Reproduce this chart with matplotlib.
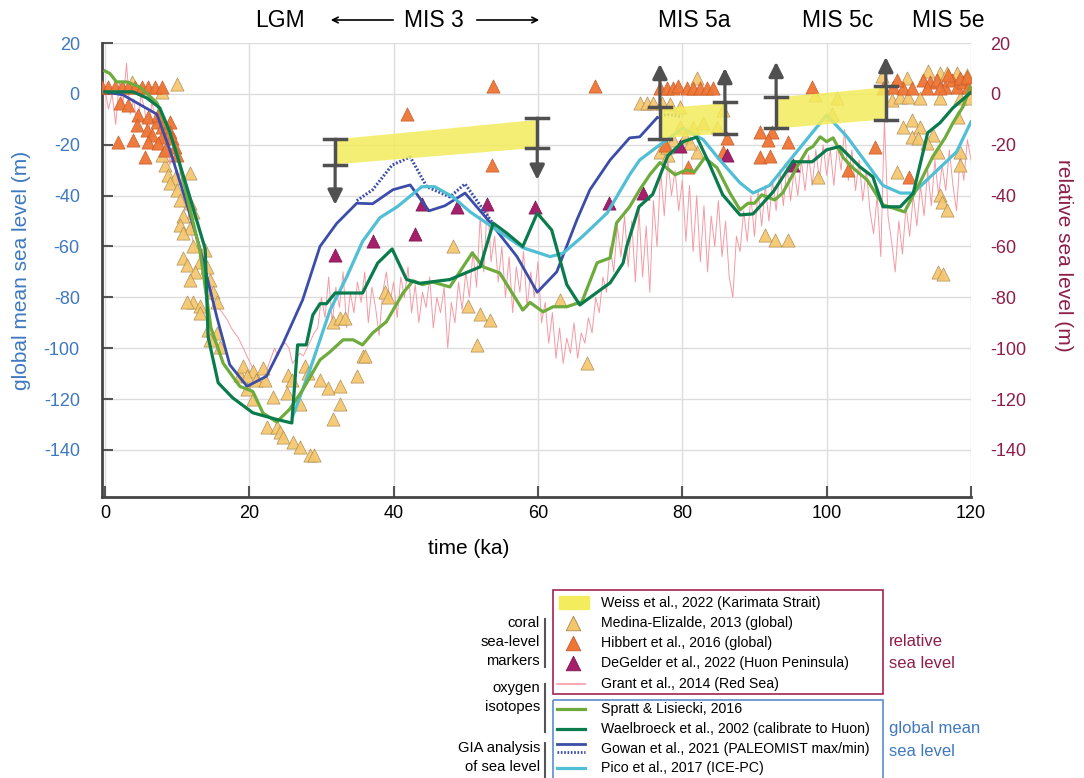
import matplotlib
matplotlib.use('Agg')
import matplotlib.pyplot as plt
from matplotlib.patches import Rectangle
import numpy as np

plt.rcParams['font.family'] = ['Liberation Sans', 'DejaVu Sans']
plt.rcParams['axes.unicode_minus'] = False

# ---- sea level curves (age in ka, level in m) ----
spratt_age = [0, 0.7, 1.6, 3, 4.8, 7.2, 8.6, 10, 11.5, 13.2, 14.7, 16.4, 18.7, 20.5, 21.9,
              23.8, 25.6, 27.4, 29.8, 31.2, 33, 34.4, 35.7, 37.1, 39, 41.3, 42.7, 44, 45.4,
              47.8, 50.9, 52.4, 54.7, 57.9, 58.9, 60.7, 62.1, 64, 66.1, 68.2, 70, 70.9, 72.7,
              74.1, 75.5, 76.9, 79, 80.6, 81.7, 83.1, 84.8, 86.6, 88, 89.1, 90, 91, 92.8,
              93.9, 95.9, 97.3, 98.1, 99.1, 100, 100.9, 102.3, 103.6, 105.6, 107.8, 110.8,
              112.9, 114.7, 116.4, 117.5, 118.9, 119.9]
spratt_gmsl = [9, 8, 4.7, 4.7, 2.8, -3.5, -13, -23, -42, -62, -92, -106, -115, -117, -125.5,
               -129, -124, -116.4, -104.6, -101.4, -96.7, -96.7, -98.7, -94, -89.6, -78.3, -73.5,
               -75, -74, -75.9, -62.5, -68, -70.4, -85, -82, -85.7, -83.7, -83.7, -81.7, -66.4,
               -64.5, -50.7, -44.4, -37.7, -31.8, -27, -31.8, -29.9, -30.6, -25.1, -29, -39,
               -45.6, -43, -43, -39.7, -41.7, -39, -28.7, -22, -20.7, -16.9, -18.8, -17.3,
               -25.1, -29, -33.8, -43.6, -46.4, -35, -24.7, -17.3, -11.4, -5, 2.8]

wael_age = [0, 3.9, 5.8, 7.6, 9, 11.5, 13.9, 14.3, 15.7, 17.7, 20.5, 23.8, 25.9, 26.7, 27.9,
            28.8, 29.8, 30.7, 31.9, 35.7, 37.8, 39.8, 41.8, 43.6, 47.8, 52, 53.8, 55.7, 57.9,
            59.9, 61.9, 64, 65.8, 68.2, 70, 71.8, 72.3, 74, 75.9, 78, 80.1, 82, 83.6, 85.6,
            88, 89.8, 92.6, 95.3, 98, 100, 101.8, 104.6, 106.4, 107.8, 110.2, 112, 114,
            115.7, 117.5, 119.9]
wael_gmsl = [0.8, 0.8, -1.6, -5.5, -15, -38, -61, -95.5, -113.6, -119.5, -125.4, -128, -129.4,
             -98.7, -98.7, -87, -82.5, -82.5, -78.3, -78.3, -66.5, -61, -73, -74.5, -73, -68,
             -50.8, -54.8, -60, -46.9, -53.5, -75, -83, -78, -74.3, -66.5, -60, -44.4, -39.5,
             -24.3, -18.8, -17, -26.6, -39.7, -47.6, -47.2, -38.5, -26.7, -26.7, -22, -20.7,
             -28.7, -32.6, -44.4, -44.4, -39, -15.3, -11.4, -5.5, 0.4]

gowan_age = [0, 2.5, 7.2, 9, 11, 13.2, 15.5, 17.3, 19.7, 22.4, 24.7, 27.4, 29.8, 32.1, 34.9,
             37.1, 39.9, 42.3, 44.9, 47.1, 49.9, 53.8, 57.1, 59.9, 62.6, 65.4, 67.2, 70, 72.7,
             74.1, 76.5]
gowan_gmsl = [0.8, -0.4, -8, -22, -40, -61, -87.6, -106.5, -115, -111, -98, -81, -60, -51, -43,
              -43.2, -37.7, -35.8, -46, -44, -39, -52, -64, -78, -70, -49.5, -37.7, -26, -17.3,
              -16.9, -9.4]
gowan_max_age = [34.9, 37.1, 39.8, 42.3, 44.6, 47.8, 49.9, 53.6]
gowan_max_gmsl = [-42, -37.7, -28, -24.8, -36.5, -40.5, -35.4, -50.3]
gowan_max2_age = [76.5, 77.8, 80]
gowan_max2_gmsl = [-9.4, -8, -9]

pico_age = [26, 28.4, 31.2, 33.5, 35.7, 38.1, 40.5, 43.9, 45.7, 48.2, 50.6, 54.3, 57.9, 61.7,
            63.5, 66.2, 69.6, 72.7, 74.1, 76.9, 80.1, 82.9, 85.2, 88, 89.8, 92.1, 95.3, 100,
            102.8, 107.8, 110.2, 112, 115.7, 118, 120]
pico_gmsl = [-127, -108.5, -85, -72, -58, -48.7, -44.4, -36.5, -36.5, -40.5, -46.4, -53.5,
             -60.5, -64, -62.6, -56, -46.8, -31.8, -26, -20, -13.5, -18, -26, -35, -39, -36,
             -24.7, -8.3, -16.8, -36, -39, -39, -29, -22.8, -11]

# Grant et al. 2014 Red Sea record, every 0.5 ka from 0 ka
grant_rsl = [2, -6, 0, -12, 5, -4, 12, -8, -2, -15, 0, -6, -18, -3, -10, -5, -20,
             -14, -28, -20, -35, -30, -45, -40, -55, -62, -58, -72, -68, -80,
             -82, -84, -85, -87, -89, -92, -94, -96, -99, -102, -105, -108, -111, -113, -114,
             -108, -104, -100, -103, -99, -98, -100, -106, -104, -102, -103, -100, -97, -94, -92,
             -80, -88, -72, -90, -76, -84, -70, -92, -78, -86, -74, -82, -70, -90, -76, -84,
             -95, -78, -70, -82, -74, -88, -72, -80, -68, -86, -75, -90, -78, -84, -72, -92,
             -80, -86, -76, -100, -82, -90, -74, -85,
             -70, -80, -62, -76, -48, -70, -42, -66, -56, -74, -60, -80, -64, -86, -68, -78,
             -62, -84, -70, -80, -66,
             -90, -82, -98, -86, -104, -92, -106, -96, -102, -90, -104, -94, -98, -88, -94,
             -80, -86, -72, -78, -60, -70, -52, -64, -48,
             -68, -50, -74, -46, -72, -52, -78, -42, -60, -30, -48, -26, -40, -30, -46,
             -34, -58, -36, -62, -40, -66, -44, -70, -48, -60, -42, -64, -50, -72, -80, -56,
             -62, -46, -58, -40, -56, -38, -52, -36, -50, -34, -46, -30, -44, -28, -42, -30,
             -40, -26, -38, -24, -36, -22, -34, -20,
             -32, -22, -36, -20, -30, -14, -34, -22, -38, -26, -42, -30, -46,
             -55, -40, -64, -10, -48, -58, -70, -50, -63, -44, -56, -40,
             -52, -36, -48, -30, -44, -26, -40, -28, -38, -22, -36, -46, -24, -34, -18, -26]
grant_age = np.arange(len(grant_rsl)) * 0.5

# ---- coral sea-level markers (age ka, relative sea level m) ----
medina_age = [3.7, 10, 7.9, 11.8, 8.3, 8.7, 7.9, 9.7, 9, 10, 10.4, 11.8, 12.2, 10.8, 10.4, 11.8,
              10.8, 13.9, 12.2, 10.8, 11.4, 13.2, 14.1, 12.5, 14.5, 11.8, 15, 12.2, 11.4, 13.2,
              15.5, 13.2, 14.3, 15.5, 14.5, 15.9,
              18.7, 19.1, 19.7, 20.5, 21.9, 19.7, 21, 22.2, 23.3, 20.5, 25.4, 25.9, 25.2, 27,
              27.7, 28.1, 29.8, 30.9, 32.6, 32.6, 31.6, 34.9, 35.7, 22.4, 23.8, 24.2, 24.7, 26,
              27, 28.4, 29,
              48.2, 38.8, 39.2, 31.6, 32.6, 33.3, 50.3, 52, 53.3, 36, 51.5, 63, 66.8,
              74.1, 75.1, 76, 77.2, 78.3, 79.7, 82, 79.7, 81.5, 82.9, 84.8, 85.7, 80.4, 78.7,
              76.9, 78, 82, 81.1, 77.9,
              107.7, 98.4, 101.4, 100.7, 109, 110.2, 111.3, 112.9, 111.1, 114, 115.7, 116.7,
              118, 119.4, 115.7, 118.5, 119.9, 111.8, 110.6, 112.9, 111.8, 112.7, 114.7, 113.9,
              118.2, 115.4, 118.5, 118.5, 109.7, 98.8, 115.7, 116, 116.7, 115.4, 116.1, 91.5,
              92.8, 94.6]
medina_rsl = [4.7, 4, 0.8, -31, -28, -32, -24, -33, -35, -37.7, -41.7, -43, -46.4, -48, -51.5,
              -52.7, -54.6, -61.3, -60, -64.5, -67.2, -66, -68, -70, -73, -73, -78, -82, -82,
              -83.6, -82, -86, -92.7, -94, -96.7, -99.4,
              -110.5, -107, -116, -109, -107.7, -111, -112.4, -112.4, -119, -120, -110.5, -112.4,
              -117.5, -122, -107, -109.7, -112.4, -115.6, -115, -122, -128, -111, -103, -131,
              -131, -133, -135, -137, -139, -142, -142,
              -59.7, -78, -80, -89.6, -88, -88, -83.3, -86.5, -88.8, -103, -98.7, -81, -106,
              -3.5, -3.5, -3.5, -3.5, -3.9, -5, 6.3, -13, -13, -11.4, -13, -6.3, -16.9, -18,
              -23, -24, -22.8, -19.3, -21,
              7, -0.4, -1.6, -7.9, -2.4, -1.2, -1.2, -1.6, 6.3, 9, 8.3, 8.3, 8.3, 7.5, -1.6,
              -1.6, -1.6, -10.2, -13, -13, -16.9, -17.3, -16.1, -19.3, -9, -22.8, -22.8, -27.9,
              -30.6, -32.6, -39.7, -42.4, -45.6, -70, -71, -55.4, -57.4, -57.4]

hibbert_age = [-0.4, 0.4, 1.4, 2.4, 3.2, 4.2, 5.1, 6, 6.9, 7.9, 2.1, 3.2, 4.6, 6, 4.4, 5.8, 7.2,
               7.9, 9, 6.5, 7.9, 9, 1.8, 3.9, 6, 7.3, 9.3, 9.7, 8.3, 5.5, 10, 7.3,
               41.8, 53.6, 53.8, 67.9,
               76.9, 77.9, 78.7, 79.4, 80.6, 81.5, 82.4, 83.4, 84.2, 77.6, 85.6, 80.8, 86.2,
               90.8, 92.4, 91.9, 94.6, 90.8, 92.1, 98, 106.7, 103, 111.4,
               107.8, 109.2, 110.6, 111.8, 113.3, 114.3, 115.3, 116.4, 117.4, 118, 118.9, 119.6,
               113.9, 115.7, 118.5, 119.4, 116.8, 109.7]
hibbert_rsl = [2.8, 2.8, 2.8, 2.8, 2.8, 2.8, 2.8, 2.8, 2.8, 2.8, -3.5, -4.3, -8.3, -9, -12.2,
               -14.2, -11, -13, -11, -16, -17, -15, -19, -18, -19, -19.3, -17.3, -20.8, -22,
               -24.7, -24, -8.3,
               -7.9, -27.9, 3.1, 3.1,
               2.5, 2.5, 2.5, 3.2, 2.5, 2.5, 2.5, 2.5, 2.5, -20, -22.8, -28.7, -17.3,
               -15, -15, -18, -18.9, -24.7, -24.4, 2.8, -20.8, -29.9, -32.6,
               2.4, 2.8, 2.4, 2.4, 5.5, 4.7, 5.5, 2.8, 5.5, 2.8, 4.7, 2.8,
               2.4, 2.4, 6.3, 6.7, 7.5, 5.5]

degelder_age = [31.9, 37.1, 43, 43.9, 48.8, 52.9, 59.6, 69.8, 74.5, 79.7, 86.2, 95.3]
degelder_rsl = [-63.3, -58, -55, -43.2, -44.4, -43.2, -44.4, -42.8, -39, -20.4, -24, -27.9]

# ---- Weiss et al. 2022, Karimata Strait bands and limiting error bars ----
weiss_age = [(31.9, 59.9), (76.9, 85.9), (93, 108.2)]
weiss_top = [(-17.7, -10), (-5.5, -3.5), (-1.2, 2.8)]
weiss_bot = [(-27.5, -21), (-17.3, -15.3), (-13.4, -9.8)]
bar_age = [31.9, 59.9, 76.9, 85.9, 93, 108.2]
bar_hi = [-17.7, -9.4, -5.1, -3.1, -1.2, 3.1]
bar_lo = [-27.9, -21.2, -17.7, -15.7, -13.4, -10.2]
bar_tip = [-43.6, -33.8, 11.8, 10.2, 12.6, 14.5]

C_SPRATT = '#6EAB3D'
C_WAEL = '#0A7B4C'
C_GOWAN = '#3B4DA8'
C_PICO = '#50BFD5'
C_GRANT = '#F59AA5'
C_MEDINA = '#F4C66C'
C_HIBBERT = '#EE7535'
C_DEGELDER = '#A51F6A'
C_WEISS = '#F3EC5C'
C_BLUE = '#3E78C0'
C_RED = '#8E1E47'
C_BAR = '#505050'

fig = plt.figure(figsize=(10.84, 7.78), dpi=100)
ax = fig.add_axes([102 / 1084, 1 - 497 / 778, (971 - 102) / 1084, (497 - 43) / 778])
ax.set_xlim(-0.4, 120)
ax.set_ylim(-158.5, 20)

ax.plot(grant_age, grant_rsl, color=C_GRANT, lw=0.7, zorder=2)
ax.scatter(medina_age, medina_rsl, marker='^', s=90, color=C_MEDINA, edgecolor='#A88850',
           linewidth=0.5, alpha=0.9, zorder=3)
ax.scatter(hibbert_age, hibbert_rsl, marker='^', s=90, color=C_HIBBERT, edgecolor='#C65A28',
           linewidth=0.5, alpha=0.95, zorder=3)
ax.scatter(degelder_age, degelder_rsl, marker='^', s=90, color=C_DEGELDER, edgecolor='#7A1550',
           linewidth=0.5, zorder=3)

ax.plot(spratt_age, spratt_gmsl, color=C_SPRATT, lw=2.3, zorder=5)
ax.plot(wael_age, wael_gmsl, color=C_WAEL, lw=2.3, zorder=5)
ax.plot(gowan_max_age, gowan_max_gmsl, color=C_GOWAN, lw=2.2, ls=(0, (0.6, 0.6)), zorder=4)
ax.plot(gowan_max2_age, gowan_max2_gmsl, color=C_GOWAN, lw=2.2, ls=(0, (0.6, 0.6)), zorder=4)
ax.plot(gowan_age, gowan_gmsl, color=C_GOWAN, lw=2.0, zorder=4)
ax.plot(pico_age, pico_gmsl, color=C_PICO, lw=2.3, zorder=4)

for (a0, a1), (t0, t1), (b0, b1) in zip(weiss_age, weiss_top, weiss_bot):
    ax.fill_between([a0, a1], [b0, b1], [t0, t1], color=C_WEISS, alpha=0.85, lw=0, zorder=6)

for a, hi, lo, tip in zip(bar_age, bar_hi, bar_lo, bar_tip):
    ax.plot([a, a], [lo, hi], color=C_BAR, lw=2.5, zorder=7)
    ax.plot([a - 1.5, a + 1.5], [hi, hi], color=C_BAR, lw=2.5, zorder=7)
    ax.plot([a - 1.5, a + 1.5], [lo, lo], color=C_BAR, lw=2.5, zorder=7)
    start = lo if tip < lo else hi
    ax.annotate('', xy=(a, tip), xytext=(a, start), zorder=7,
                arrowprops=dict(arrowstyle='-|>', color=C_BAR, lw=2.3, mutation_scale=22,
                                shrinkA=0, shrinkB=0))

ax.set_xticks(range(0, 121, 20))
ax.set_yticks(range(-140, 21, 20))
ax.grid(True, color='#DDDDDD', lw=1)
ax.set_axisbelow(True)
ax.tick_params(axis='both', direction='in', length=8, width=1.5, color='#555555', labelsize=13)
ax.tick_params(axis='y', labelcolor=C_BLUE, pad=16)
ax.tick_params(axis='x', pad=6)
for s in ['top', 'right']:
    ax.spines[s].set_visible(False)
for s in ['left', 'bottom']:
    ax.spines[s].set_color('#444444')
    ax.spines[s].set_linewidth(2)

ax2 = ax.twinx()
ax2.set_ylim(ax.get_ylim())
ax2.set_yticks(range(-140, 21, 20))
ax2.tick_params(axis='y', length=0, labelsize=13, labelcolor=C_RED, pad=14)
for s in ax2.spines.values():
    s.set_visible(False)

# ---- annotations and legend in figure pixel coordinates ----
lax = fig.add_axes([0, 0, 1, 1], zorder=10)
lax.set_xlim(0, 1084)
lax.set_ylim(778, 0)
lax.axis('off')

lax.text(469, 549, 'time (ka)', fontsize=15, ha='center', va='center')
lax.text(22, 270, 'global mean sea level (m)', fontsize=15, color=C_BLUE, rotation=90,
         ha='center', va='center')
lax.text(1063, 255, 'relative sea level (m)', fontsize=15, color=C_RED, rotation=270,
         ha='center', va='center')

for label, px in [('LGM', 280), ('MIS 3', 434), ('MIS 5a', 694), ('MIS 5c', 838),
                  ('MIS 5e', 948)]:
    lax.text(px, 20, label, fontsize=16.5, ha='center', va='center')
lax.annotate('', xy=(328, 20), xytext=(396, 20),
             arrowprops=dict(arrowstyle='->', lw=1.2, color='k'))
lax.annotate('', xy=(542, 20), xytext=(474, 20),
             arrowprops=dict(arrowstyle='->', lw=1.2, color='k'))

lax.add_patch(Rectangle((553, 590), 330, 104, fill=False, ec='#A3254D', lw=1.2))
lax.add_patch(Rectangle((553, 700), 330, 90, fill=False, ec='#5A8ED0', lw=1.2))

lax.add_patch(Rectangle((559, 596), 30, 13, color=C_WEISS))
lax.scatter([573], [623], marker='^', s=110, color=C_MEDINA, edgecolor='#A88850', lw=0.6)
lax.scatter([573], [643], marker='^', s=110, color=C_HIBBERT, edgecolor='#C65A28', lw=0.6)
lax.scatter([573], [663], marker='^', s=110, color=C_DEGELDER, edgecolor='#7A1550', lw=0.6)
lax.plot([557, 585], [684, 684], color=C_GRANT, lw=1.2)
lax.plot([557, 585], [709, 709], color=C_SPRATT, lw=2.3)
lax.plot([557, 585], [729, 729], color=C_WAEL, lw=2.3)
lax.plot([557, 585], [744, 744], color=C_GOWAN, lw=2.0)
lax.plot([557, 585], [752, 752], color=C_GOWAN, lw=2.0, ls=(0, (0.6, 0.6)))
lax.plot([557, 585], [768, 768], color=C_PICO, lw=2.3)

legend_labels = ['Weiss et al., 2022 (Karimata Strait)', 'Medina-Elizalde, 2013 (global)',
                 'Hibbert et al., 2016 (global)', 'DeGelder et al., 2022 (Huon Peninsula)',
                 'Grant et al., 2014 (Red Sea)', 'Spratt & Lisiecki, 2016',
                 'Waelbroeck et al., 2002 (calibrate to Huon)',
                 'Gowan et al., 2021 (PALEOMIST max/min)', 'Pico et al., 2017 (ICE-PC)']
legend_rows = [603, 623, 643, 663, 684, 709, 729, 749, 768]
for t, py in zip(legend_labels, legend_rows):
    lax.text(601, py, t, fontsize=10.2, ha='left', va='center')

for t, py in [('coral', 623), ('sea-level', 642), ('markers', 661), ('oxygen', 688),
              ('isotopes', 707), ('GIA analysis', 748), ('of sea level', 767)]:
    lax.text(540, py, t, fontsize=10.6, ha='right', va='center')
for y0, y1 in [(619, 667), (684, 732), (743, 780)]:
    lax.plot([545, 545], [y0, y1], color='#555555', lw=1.5)

lax.text(889, 641, 'relative', fontsize=12, color=C_RED, ha='left', va='center')
lax.text(889, 663, 'sea level', fontsize=12, color=C_RED, ha='left', va='center')
lax.text(889, 728, 'global mean', fontsize=12, color=C_BLUE, ha='left', va='center')
lax.text(889, 751, 'sea level', fontsize=12, color=C_BLUE, ha='left', va='center')

fig.savefig('out.png', dpi=100)
